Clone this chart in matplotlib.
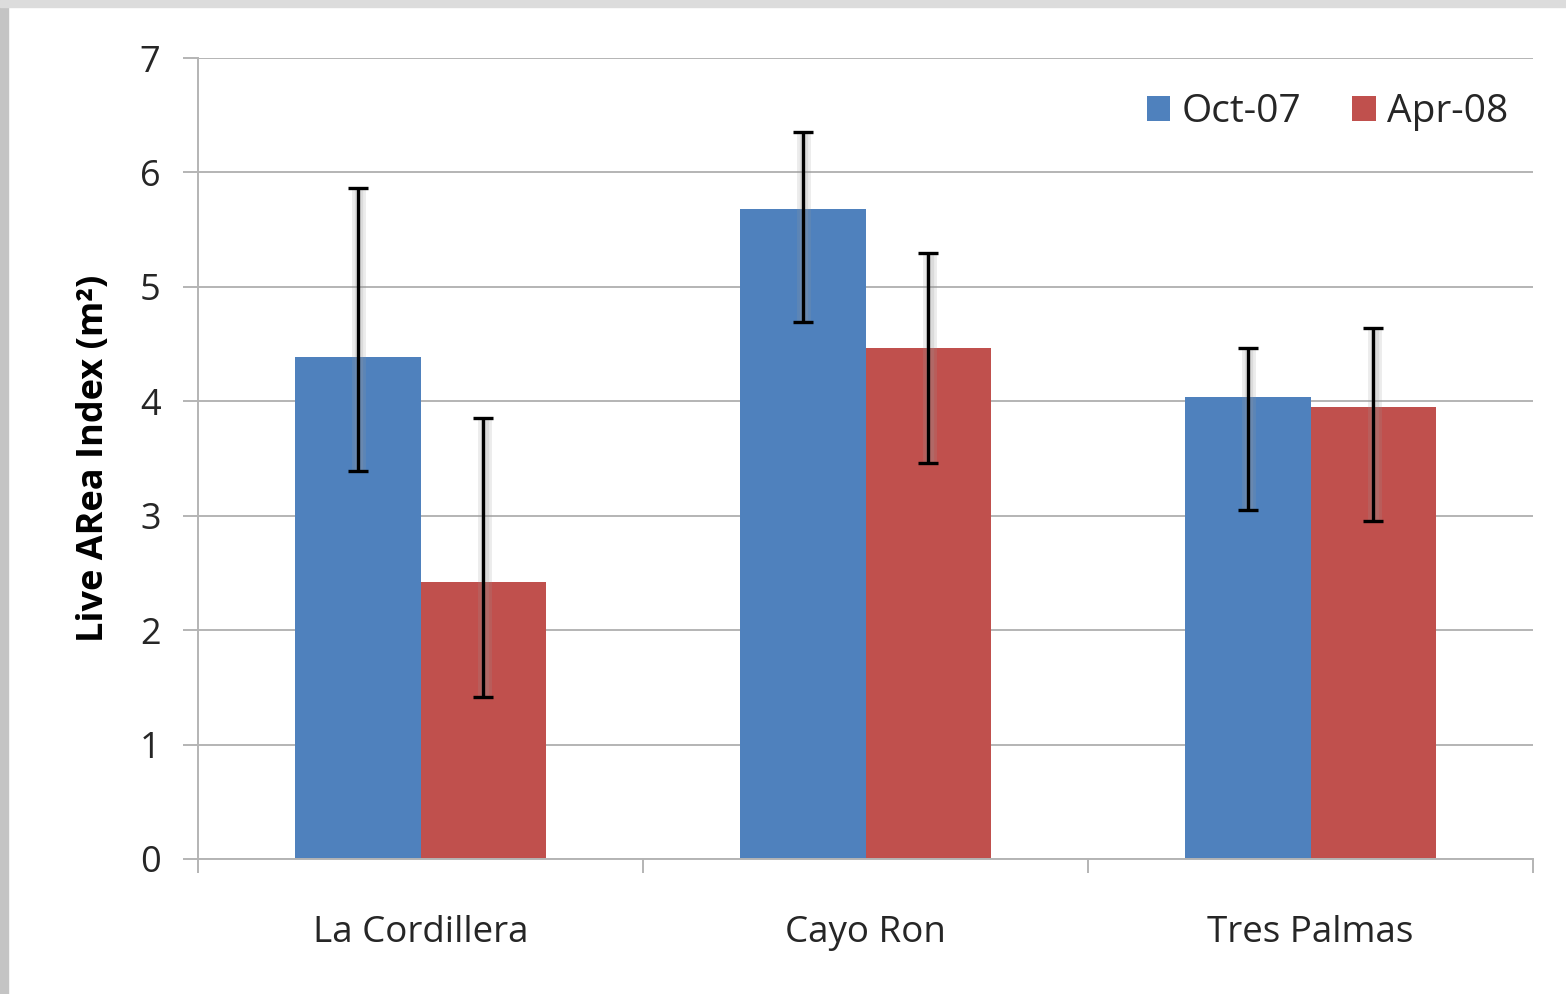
import matplotlib.pyplot as plt
import matplotlib.patheffects as pe
import numpy as np
from matplotlib.patches import Rectangle

# ---------------------------------------------------------------------
# Chart data
# ---------------------------------------------------------------------

SITES = ["La Cordillera", "Cayo Ron", "Tres Palmas"]
SERIES = ["Oct-07", "Apr-08"]

OCT_VALUES = [4.39, 5.68, 4.04]
OCT_ERR_LOW = [1.00, 0.99, 0.99]
OCT_ERR_HIGH = [1.47, 0.67, 0.43]

APR_VALUES = [2.42, 4.47, 3.95]
APR_ERR_LOW = [1.00, 1.01, 1.00]
APR_ERR_HIGH = [1.43, 0.83, 0.69]

Y_TICKS = [0, 1, 2, 3, 4, 5, 6, 7]

BLUE = "#4F81BD"
RED = "#C0504D"
GRID = "#B4B4B4"

plt.rcParams["font.family"] = ["Open Sans", "DejaVu Sans"]

fig = plt.figure(figsize=(15.66, 9.94), dpi=100)
fig.patch.set_facecolor("white")

# grey frame strips at the left and top edges
fig.patches.append(Rectangle((0, 0), 8 / 1566, 1, transform=fig.transFigure,
                             color="#c4c4c4", zorder=0))
fig.patches.append(Rectangle((0, 1 - 7 / 994), 1, 7 / 994,
                             transform=fig.transFigure, color="#dcdcdc", zorder=0))

ax = fig.add_axes([198 / 1566, 1 - 859 / 994, (1533 - 198) / 1566, (859 - 58) / 994])

x = np.arange(len(SITES))
width = 0.283

shadow = [pe.SimpleLineShadow(offset=(1, -1), shadow_color="#999999",
                              alpha=0.18, linewidth=10),
          pe.SimpleLineShadow(offset=(1, -1), shadow_color="#999999",
                              alpha=0.2, linewidth=6),
          pe.Normal()]

for offset, values, low, high, color, label in [
    (-width / 2, OCT_VALUES, OCT_ERR_LOW, OCT_ERR_HIGH, BLUE, SERIES[0]),
    (width / 2, APR_VALUES, APR_ERR_LOW, APR_ERR_HIGH, RED, SERIES[1]),
]:
    ax.bar(x + offset, values, width, color=color, label=label, zorder=2)
    eb = ax.errorbar(x + offset, values, yerr=[low, high], fmt="none",
                     ecolor="black", elinewidth=2.4, capsize=7, capthick=2.4,
                     zorder=3)
    for line in eb.lines[2]:
        line.set_path_effects(shadow)

ax.set_xlim(-0.5, 2.5)
ax.set_ylim(0, 7)
ax.set_yticks(Y_TICKS)
ax.yaxis.grid(True, color=GRID, linewidth=1.4, zorder=0)
ax.set_axisbelow(True)

for side in ["top", "right"]:
    ax.spines[side].set_visible(False)
ax.spines["left"].set_color(GRID)
ax.spines["bottom"].set_color(GRID)
ax.spines["left"].set_linewidth(1.4)
ax.spines["bottom"].set_linewidth(1.4)

ax.tick_params(axis="y", length=11, width=1.4, color=GRID, pad=16,
               labelsize=26, labelcolor="#262626")

ax.set_xticks(x)
ax.set_xticklabels(SITES)
ax.set_xticks([-0.5, 0.5, 1.5, 2.5], minor=True)
ax.tick_params(axis="x", which="major", length=0, pad=40, labelsize=26.5,
               labelcolor="#262626")
ax.tick_params(axis="x", which="minor", length=10, width=1.4, color=GRID)

ax.set_ylabel("Live ARea Index (m²)", fontsize=26, fontweight="bold",
              labelpad=20)

ax.legend(loc="upper right", bbox_to_anchor=(1.008, 1.0), frameon=False,
          fontsize=28, ncol=2, handlelength=0.6, handleheight=0.6,
          handletextpad=0.3, columnspacing=1.3, labelcolor="#262626")

fig.savefig("out.png", dpi=100)
